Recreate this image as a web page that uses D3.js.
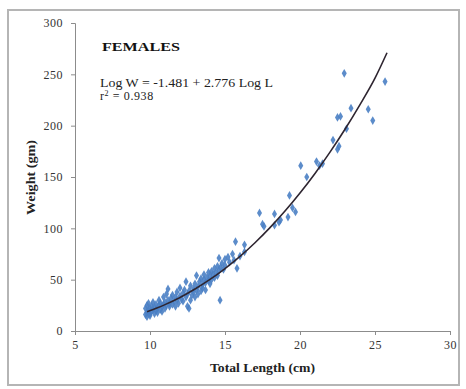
<!DOCTYPE html>
<html>
<head>
<meta charset="utf-8">
<script src="https://cdn.jsdelivr.net/npm/d3@7"></script>
<style>
  body { margin: 0; background: #fff; }
  svg { display: block; font-family: "Liberation Serif", "Times New Roman", serif; }
</style>
</head>
<body>
<svg id="chart" width="466" height="389"></svg>
<script>
// observed fish (total length cm, weight gm)
const lengths = [
  9.7, 9.7, 9.8, 9.8, 9.8, 9.9, 9.9, 10.0, 10.0, 10.0, 10.1, 10.1, 10.2, 10.2, 10.3, 10.3,
  10.4, 10.4, 10.5, 10.5, 10.6, 10.6, 10.7, 10.7, 10.8, 10.8, 10.9, 10.9, 11.0, 11.0, 11.1, 11.1,
  11.2, 11.2, 11.3, 11.3, 11.4, 11.5, 11.5, 11.6, 11.7, 11.7, 11.8, 11.8, 11.9, 12.0, 12.0, 12.1,
  12.2, 12.2, 12.3, 12.4, 12.4, 12.5, 12.5, 12.6, 12.6, 12.7, 12.7, 12.8, 12.9, 12.9, 13.0, 13.0,
  13.1, 13.1, 13.2, 13.2, 13.3, 13.4, 13.4, 13.5, 13.5, 13.6, 13.6, 13.7, 13.7, 13.8, 13.9, 13.9,
  14.0, 14.0, 14.1, 14.1, 14.2, 14.3, 14.3, 14.4, 14.5, 14.5, 14.6, 14.6, 14.67, 14.7, 14.8, 14.9,
  15.0, 15.0, 15.2, 15.3, 15.5, 15.6, 15.7, 15.8, 16.0, 16.3, 16.3,
  17.3, 17.5, 17.6, 18.3, 18.3, 18.6, 18.7, 19.2, 19.5, 19.7, 19.3, 20.05, 20.45, 21.1, 21.3, 21.5,
  22.2, 22.5, 22.6, 22.5, 22.7, 23.1, 22.95, 23.4, 24.55, 24.85, 25.67
];
const weights = [
  16, 22, 18, 25, 14, 20, 27, 17, 22, 15, 19, 24, 21, 28, 17, 23,
  20, 26, 22, 18, 25, 30, 21, 27, 24, 19, 26, 33, 22, 28, 25, 36,
  30, 41, 24, 27, 32, 26, 35, 29, 33, 24, 38, 30, 27, 34, 42, 31,
  37, 29, 40, 48, 33, 36, 24, 22, 39, 44, 30, 35, 41, 38, 46, 33,
  54, 40, 43, 36, 48, 39, 51, 45, 42, 50, 55, 47, 40, 52, 49, 57,
  53, 46, 58, 50, 55, 61, 52, 57, 63, 54, 71, 59, 30, 62, 66, 60,
  70, 64, 72, 67, 75, 69, 87, 61, 73, 77, 84,
  115, 104, 102, 114, 103, 106, 108, 111, 120, 116, 132, 161, 150, 165, 161, 163,
  186, 177, 180, 208, 209, 197, 251, 217, 216, 205, 243
];

// fitted power curve
const fitLengths = [9.8, 10.5, 11, 12, 13, 14, 15, 16, 17, 18, 19, 20, 21, 22, 23, 24, 25, 25.8];
const fitWeights = [18.8, 22.6, 25.7, 32.7, 40.9, 50.2, 60.8, 72.7, 86.0, 100.7, 116.8, 134.4, 153.5, 174.2, 196.5, 220.5, 246.3, 271];

const xTicks = [5, 10, 15, 20, 25, 30];
const yTicks = [0, 50, 100, 150, 200, 250, 300];

const title = "FEMALES";
const equation = "Log W = -1.481 + 2.776 Log L";
const rSquared = "0.938";

const svg = d3.select("#chart");

// outer frame
svg.append("rect")
  .attr("x", 8).attr("y", 10)
  .attr("width", 451).attr("height", 375)
  .attr("fill", "#fff")
  .attr("stroke", "#b5b5b5")
  .attr("stroke-width", 2);

const x = d3.scaleLinear().domain([5, 30]).range([75, 450]);
const y = d3.scaleLinear().domain([0, 300]).range([331, 23]);

const xAxis = svg.append("g")
  .attr("transform", `translate(0,${y(0)})`)
  .call(d3.axisBottom(x).tickValues(xTicks).tickSize(4).tickPadding(5));

const yAxis = svg.append("g")
  .attr("transform", `translate(${x(5)},0)`)
  .call(d3.axisLeft(y).tickValues(yTicks).tickSize(4).tickPadding(8));

[xAxis, yAxis].forEach(g => {
  g.select(".domain").attr("stroke", "#8c8c8c");
  g.selectAll(".tick line").attr("stroke", "#8c8c8c");
  g.selectAll(".tick text")
    .attr("fill", "#333")
    .style("font-family", "Liberation Serif")
    .style("font-size", "12px")
    .style("letter-spacing", "0.5px");
});

svg.append("text")
  .attr("x", 210).attr("y", 372)
  .attr("textLength", 105)
  .attr("lengthAdjust", "spacingAndGlyphs")
  .attr("font-weight", "bold")
  .attr("font-size", 12)
  .attr("fill", "#222")
  .text("Total Length (cm)");

svg.append("text")
  .attr("transform", "translate(35,215) rotate(-90)")
  .attr("textLength", 75)
  .attr("lengthAdjust", "spacingAndGlyphs")
  .attr("font-weight", "bold")
  .attr("font-size", 12)
  .attr("fill", "#222")
  .text("Weight (gm)");

const points = lengths.map((l, i) => ({ l, w: weights[i] }));

svg.append("g")
  .selectAll("path")
  .data(points)
  .join("path")
  .attr("transform", d => `translate(${x(d.l)},${y(d.w)})`)
  .attr("d", d3.symbol().type(d3.symbolDiamond).size(22))
  .attr("fill", "#4a7fc4")
  .attr("opacity", 0.9);

const line = d3.line()
  .x(d => x(d[0]))
  .y(d => y(d[1]))
  .curve(d3.curveMonotoneX);

svg.append("path")
  .datum(fitLengths.map((l, i) => [l, fitWeights[i]]))
  .attr("d", line)
  .attr("fill", "none")
  .attr("stroke", "#2e2530")
  .attr("stroke-width", 1.6);

svg.append("text")
  .attr("x", 102).attr("y", 51)
  .attr("textLength", 78)
  .attr("lengthAdjust", "spacingAndGlyphs")
  .attr("font-weight", "bold")
  .attr("font-size", 13)
  .attr("fill", "#111")
  .text(title);

svg.append("text")
  .attr("x", 100).attr("y", 87)
  .attr("textLength", 173)
  .attr("lengthAdjust", "spacingAndGlyphs")
  .attr("font-size", 12)
  .attr("fill", "#222")
  .text(equation);

const r2 = svg.append("text")
  .attr("x", 100).attr("y", 100)
  .attr("font-size", 12)
  .attr("letter-spacing", "0.6px")
  .attr("fill", "#222");
r2.append("tspan").text("r");
r2.append("tspan").attr("dy", -4).attr("font-size", 8).text("2");
r2.append("tspan").attr("dy", 4).text(" = " + rSquared);
</script>
</body>
</html>
